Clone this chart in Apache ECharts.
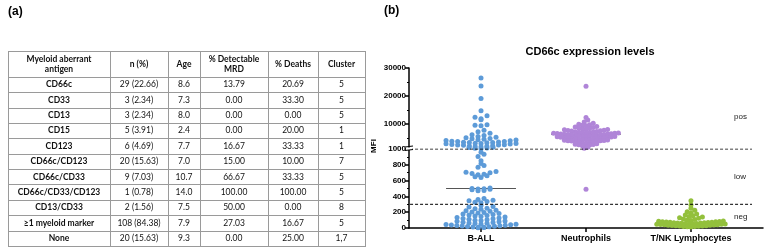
<!DOCTYPE html>
<html>
<head>
<meta charset="utf-8">
<script src="https://cdn.jsdelivr.net/npm/echarts@6/dist/echarts.min.js"></script>
<style>
html, body { margin: 0; padding: 0; background: #fff; }
#main { width: 767px; height: 248px; }
</style>
</head>
<body>
<div id="main"></div>
<script>
// ---- table (a) ----
var tableHead = ['Myeloid aberrant\nantigen', 'n (%)', 'Age', '% Detectable\nMRD', '% Deaths', 'Cluster'];
var antigens = ['CD66c', 'CD33', 'CD13', 'CD15', 'CD123', 'CD66c/CD123', 'CD66c/CD33', 'CD66c/CD33/CD123', 'CD13/CD33', '≥1 myeloid marker', 'None'];
var nPct = ['29 (22.66)', '3 (2.34)', '3 (2.34)', '5 (3.91)', '6 (4.69)', '20 (15.63)', '9 (7.03)', '1 (0.78)', '2 (1.56)', '108 (84.38)', '20 (15.63)'];
var age = ['8.6', '7.3', '8.0', '2.4', '7.7', '7.0', '10.7', '14.0', '7.5', '7.9', '9.3'];
var mrd = ['13.79', '0.00', '0.00', '0.00', '16.67', '15.00', '66.67', '100.00', '50.00', '27.03', '0.00'];
var deaths = ['20.69', '33.30', '0.00', '20.00', '33.33', '10.00', '33.33', '100.00', '0.00', '16.67', '25.00'];
var cluster = ['5', '5', '5', '1', '1', '7', '5', '5', '8', '5', '1,7'];

// ---- chart (b) ----
var groups = ['B-ALL', 'Neutrophils', 'T/NK Lymphocytes'];
var bAll = [
  26400, 23600, 19100, 14700, 12900, 12400, 11800, 11500, 9650, 9500, 9350, 7700, 7200,
  6600, 6100, 5800, 5500, 5200, 5000, 4800, 4700, 4500, 4350, 4200, 4050, 3950,
  3800, 3700, 3650, 3550, 3450, 3350, 3300, 3200, 3100, 3000, 2950, 2850, 2750, 2650, 2550, 2450,
  2400, 2300, 2200, 2100, 2000, 1900, 1800, 1650, 1500, 1400, 1250, 1100,
  960, 935, 905, 850, 815, 790, 770, 715, 705, 700, 690, 680, 675, 660, 650, 640,
  505, 500, 498, 494, 490, 485, 476, 470, 375, 362, 352, 345, 336, 327, 320,
  285, 272, 266, 251, 243, 237, 226, 219, 212, 204, 197, 191, 183, 176, 171, 165, 158, 152,
  147, 139, 133, 128, 121, 116, 110, 104, 99, 95, 88, 84, 79, 73, 69, 64, 60, 57, 52, 48,
  45, 41, 38, 35, 31, 28, 25, 22, 19, 16, 13, 10, 8, 6, 4
];
var neutrophils = [
  23500, 12300, 11400, 10700, 10200, 9900, 9700,
  9500, 9300, 9100, 8900, 8700, 8500, 8350, 8200,
  8100, 7950, 7850, 7700, 7600, 7500, 7400, 7300, 7200, 7100, 7000, 6900, 6850, 6750,
  6700, 6650, 6600, 6520, 6450, 6400, 6330, 6250, 6200, 6120, 6050, 6000, 5950, 5880, 5800, 5720, 5650, 5600, 5520, 5450, 5400, 5330,
  5250, 5180, 5100, 5020, 4950, 4880, 4800, 4720, 4650, 4580, 4500, 4420, 4350, 4280, 4200, 4120, 4050, 3980, 3920, 3880,
  3800, 3650, 3500, 3380, 3250, 3100, 2980, 2850, 2720, 2600, 2520, 2450,
  2200, 1900, 1600, 1300, 490
];
var tnk = [
  345, 290, 250, 225, 205, 190, 178, 165, 155, 145, 138, 130, 122, 115, 108, 100, 95, 90,
  85, 82, 80, 78, 76, 74, 72, 70, 68, 66, 64, 62, 60, 58, 56, 54, 52, 50, 48, 46,
  44, 42, 40, 38, 36, 34, 32, 30, 28, 26, 24, 22, 20, 18, 16, 14
];
var medians = [500, 6300, 45];
var posCut = 1000;
var negCut = 300;
var upperTicks = [10000, 20000, 30000];
var upperMinor = [5000, 15000, 25000];
var colors = ['#5d9bd8', '#b085d8', '#93c03c'];

var chart = echarts.init(document.getElementById('main'));
var xMin = 0.314, xMax = 3.686;
var FONT = "'Liberation Sans', Arial, sans-serif";

// table graphic
var colX = [8, 110, 168, 200, 268, 318, 365];
var rowY = [51, 77];
for (var i = 0; i < antigens.length; i++) rowY.push(77 + (i + 1) * 15.35);
var graphics = [];
rowY.forEach(function (y) {
  var yy = Math.round(y) + 0.5;
  graphics.push({ type: 'line', silent: true, shape: { x1: colX[0], y1: yy, x2: colX[colX.length - 1] + 1, y2: yy },
    style: { stroke: '#9a9a9a', lineWidth: 1 } });
});
colX.forEach(function (x) {
  var xx = Math.round(x) + 0.5;
  graphics.push({ type: 'line', silent: true,
    shape: { x1: xx, y1: Math.round(rowY[0]) + 0.5, x2: xx, y2: Math.round(rowY[rowY.length - 1]) + 0.5 },
    style: { stroke: '#9a9a9a', lineWidth: 1 } });
});
function cell(text, c, r, bold) {
  graphics.push({ type: 'text', silent: true,
    x: (colX[c] + colX[c + 1]) / 2, y: (rowY[r] + rowY[r + 1]) / 2,
    style: { text: text, align: 'center', verticalAlign: 'middle', fill: '#111',
      font: (bold ? 'bold ' : '') + '8.5px Lato', lineHeight: 10 } });
}
tableHead.forEach(function (h, c) { cell(h, c, 0, true); });
antigens.forEach(function (a, r) {
  var row = [a, nPct[r], age[r], mrd[r], deaths[r], cluster[r]];
  row.forEach(function (t, c) { cell(t, c, r + 1, c === 0); });
});

// panel labels and annotations
graphics.push(
  { type: 'text', x: 8, y: 12, style: { text: '(a)', font: 'bold 12px ' + FONT, fill: '#000', verticalAlign: 'middle' } },
  { type: 'text', x: 384, y: 11, style: { text: '(b)', font: 'bold 12px ' + FONT, fill: '#000', verticalAlign: 'middle' } },
  { type: 'text', x: 374, y: 146, rotation: Math.PI / 2,
    style: { text: 'MFI', font: 'bold 8px ' + FONT, fill: '#000', align: 'center', verticalAlign: 'middle' } },
  { type: 'text', x: 734, y: 117, style: { text: 'pos', font: '8px ' + FONT, fill: '#222', verticalAlign: 'middle' } },
  { type: 'text', x: 734, y: 177, style: { text: 'low', font: '8px ' + FONT, fill: '#222', verticalAlign: 'middle' } },
  { type: 'text', x: 734, y: 217, style: { text: 'neg', font: '8px ' + FONT, fill: '#222', verticalAlign: 'middle' } },
  { type: 'rect', z: 100, shape: { x: 406, y: 147.5, width: 6, height: 2.5 }, style: { fill: '#fff' } },
  { type: 'line', z: 101, shape: { x1: 405, y1: 147, x2: 413, y2: 146 }, style: { stroke: '#000', lineWidth: 1 } },
  { type: 'line', z: 101, shape: { x1: 405, y1: 150.5, x2: 413, y2: 149.5 }, style: { stroke: '#000', lineWidth: 1 } }
);

var axisLineStyle = { color: '#000', width: 1.5 };
function plain(v) { return String(v); }
var labelStyle = { color: '#000', fontSize: 8, fontWeight: 'bold', fontFamily: FONT, margin: 3, formatter: plain };

var baseOption = {
  animation: false,
  title: { text: 'CD66c expression levels', left: 585, top: 41, textAlign: 'center',
    textStyle: { fontSize: 11, fontWeight: 'bold', fontFamily: FONT, color: '#000' } },
  grid: [
    { left: 409, top: 68, width: 354, height: 81 },
    { left: 409, top: 149, width: 354, height: 79 }
  ],
  xAxis: [
    { type: 'value', gridIndex: 0, min: xMin, max: xMax, show: false },
    { type: 'value', gridIndex: 1, min: xMin, max: xMax,
      axisLine: { show: true, onZero: false, lineStyle: axisLineStyle },
      axisTick: { show: true, length: 4, customValues: [1, 2, 3], lineStyle: axisLineStyle },
      axisLabel: { customValues: [1, 2, 3], formatter: function (v) { return groups[Math.round(v) - 1]; },
        color: '#000', fontSize: 9, fontWeight: 'bold', fontFamily: FONT, margin: 6 },
      splitLine: { show: false } }
  ],
  yAxis: [
    { type: 'value', gridIndex: 0, position: 'left', min: 1000, max: 30000,
      axisLine: { show: true, onZero: false, lineStyle: axisLineStyle },
      axisTick: { show: true, length: 4, customValues: upperTicks, lineStyle: axisLineStyle },
      axisLabel: Object.assign({ customValues: upperTicks }, labelStyle),
      splitLine: { show: false } },
    { type: 'value', gridIndex: 0, position: 'left', min: 1000, max: 30000,
      axisLine: { show: false, onZero: false },
      axisTick: { show: true, length: 2, customValues: upperMinor, lineStyle: { color: '#000', width: 1 } },
      axisLabel: { show: false }, splitLine: { show: false } },
    { type: 'value', gridIndex: 1, position: 'left', min: 0, max: 1000, interval: 200,
      axisLine: { show: true, onZero: false, lineStyle: axisLineStyle },
      axisTick: { show: true, length: 4, lineStyle: axisLineStyle },
      minorTick: { show: true, splitNumber: 2, length: 2, lineStyle: { color: '#000', width: 1 } },
      axisLabel: labelStyle,
      splitLine: { show: false } }
  ],
  graphic: graphics,
  series: []
};
chart.setOption(baseOption);

function swarm(values, cat, step, maxW) {
  var pxPerUnit = chart.convertToPixel({ xAxisIndex: 1 }, 2) - chart.convertToPixel({ xAxisIndex: 1 }, 1);
  var bins = {};
  values.forEach(function (v) {
    var py = chart.convertToPixel({ yAxisIndex: v > posCut ? 0 : 2 }, v);
    var key = Math.floor(py / 3.5);
    (bins[key] = bins[key] || []).push(v);
  });
  var upper = [], lower = [];
  Object.keys(bins).forEach(function (k) {
    var list = bins[k].slice().sort(function (a, b) { return a - b; });
    var n = list.length;
    var s = n > 1 ? Math.min(step, maxW / (n - 1)) : 0;
    var slots = [];
    for (var j = 0; j < n; j++) slots.push((j - (n - 1) / 2) * s);
    slots.sort(function (a, b) { return Math.abs(a) - Math.abs(b) || a - b; });
    list.forEach(function (v, j) {
      (v > posCut ? upper : lower).push([cat + slots[j] / pxPerUnit, v]);
    });
  });
  return { upper: upper, lower: lower };
}

var groupData = [bAll, neutrophils, tnk];
var steps = [6, 3.6, 3.8];
var series = [];
groupData.forEach(function (vals, g) {
  var sw = swarm(vals, g + 1, steps[g], 70);
  series.push(
    { type: 'scatter', xAxisIndex: 0, yAxisIndex: 0, data: sw.upper, symbolSize: 5, z: 3,
      itemStyle: { color: colors[g], opacity: 1 } },
    { type: 'scatter', xAxisIndex: 1, yAxisIndex: 2, data: sw.lower, symbolSize: 5, z: 3,
      itemStyle: { color: colors[g], opacity: 1 } }
  );
  var m = medians[g];
  series.push({ type: 'line', xAxisIndex: m > posCut ? 0 : 1, yAxisIndex: m > posCut ? 0 : 2,
    data: [[g + 1 - 0.333, m], [g + 1 + 0.333, m]], showSymbol: false, symbol: 'none', z: 2,
    lineStyle: { color: '#555', width: 1 } });
});
[posCut, negCut].forEach(function (c) {
  series.push({ type: 'line', xAxisIndex: 1, yAxisIndex: 2, data: [[xMin + 0.01, c], [3.581, c]],
    symbol: 'none', z: 4, lineStyle: { color: '#000', width: 1, type: [3, 2] } });
});
chart.setOption({ series: series });
</script>
</body>
</html>
